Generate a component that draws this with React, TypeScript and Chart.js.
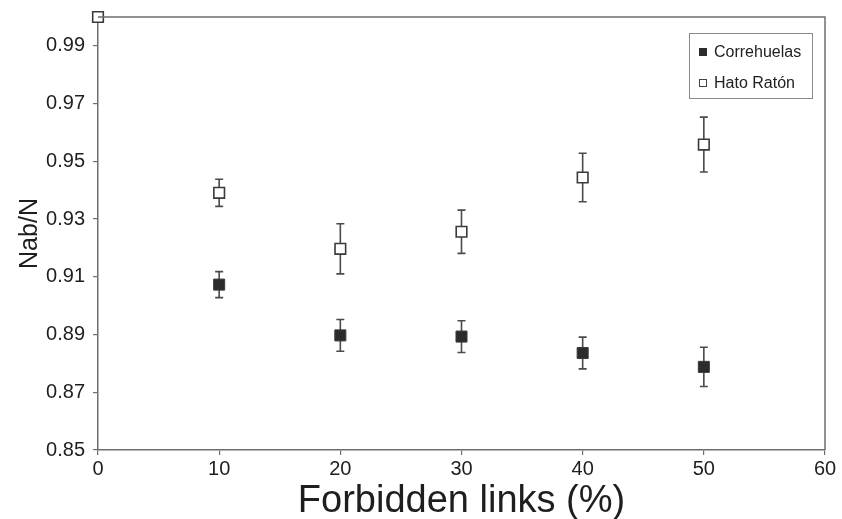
import React, { useEffect, useRef } from "react";
import { Chart, registerables } from "chart.js";

Chart.register(...registerables);

const correhuelasX = [10, 20, 30, 40, 50];
const correhuelasValues = [0.9073, 0.8897, 0.8893, 0.8836, 0.8788];
const correhuelasErrors = [0.0045, 0.0055, 0.0055, 0.0055, 0.0068];

const hatoX = [0, 10, 20, 30, 40, 50];
const hatoValues = [1.0, 0.9391, 0.9197, 0.9256, 0.9444, 0.9558];
const hatoErrors = [0, 0.0047, 0.0087, 0.0075, 0.0084, 0.0095];

const yTickValues = [0.85, 0.87, 0.89, 0.91, 0.93, 0.95, 0.97, 0.99];
const xTickValues = [0, 10, 20, 30, 40, 50, 60];

const seriesNames = ["Correhuelas", "Hato Ratón"];
const errorSets = [correhuelasErrors, hatoErrors];

const FONT = "'Liberation Sans', Arial, Helvetica, sans-serif";
const AXIS_COLOR = "#6e6e6e";

const errorBarPlugin = {
  id: "errorBars",
  beforeDatasetsDraw(chart: any) {
    const ctx = chart.ctx;
    const yScale = chart.scales.y;
    ctx.save();
    ctx.strokeStyle = "#4a4a4a";
    ctx.lineWidth = 1.6;
    chart.data.datasets.forEach((ds: any, di: number) => {
      const meta = chart.getDatasetMeta(di);
      const errs = errorSets[di];
      meta.data.forEach((pt: any, i: number) => {
        const e = errs[i];
        if (!e) return;
        const v = ds.data[i].y;
        const x = pt.x;
        const yTop = yScale.getPixelForValue(v + e);
        const yBot = yScale.getPixelForValue(v - e);
        ctx.beginPath();
        ctx.moveTo(x, yTop);
        ctx.lineTo(x, yBot);
        ctx.moveTo(x - 4, yTop);
        ctx.lineTo(x + 4, yTop);
        ctx.moveTo(x - 4, yBot);
        ctx.lineTo(x + 4, yBot);
        ctx.stroke();
      });
    });
    ctx.restore();
  },
};

const frameAndLegendPlugin = {
  id: "frameLegend",
  afterDraw(chart: any) {
    const ctx = chart.ctx;
    const a = chart.chartArea;
    ctx.save();
    ctx.strokeStyle = AXIS_COLOR;
    ctx.lineWidth = 1.5;
    ctx.beginPath();
    ctx.moveTo(a.left, a.top);
    ctx.lineTo(a.right, a.top);
    ctx.lineTo(a.right, a.bottom);
    ctx.stroke();

    // legend box
    const lx = 689, ly = 33, lw = 123, lh = 65;
    ctx.strokeStyle = "#8a8a8a";
    ctx.lineWidth = 1;
    ctx.fillStyle = "#ffffff";
    ctx.fillRect(lx, ly, lw, lh);
    ctx.strokeRect(lx + 0.5, ly + 0.5, lw, lh);

    const rows = [52, 83];
    ctx.font = `16px ${FONT}`;
    ctx.textBaseline = "middle";
    ctx.textAlign = "left";
    rows.forEach((ry, i) => {
      if (i === 0) {
        ctx.fillStyle = "#2b2b2b";
        ctx.fillRect(699, ry - 4, 8, 8);
      } else {
        ctx.fillStyle = "#ffffff";
        ctx.fillRect(699, ry - 4, 8, 8);
        ctx.strokeStyle = "#444";
        ctx.lineWidth = 1;
        ctx.strokeRect(699.5, ry - 3.5, 7, 7);
      }
      ctx.fillStyle = "#222";
      ctx.fillText(seriesNames[i], 714, ry + 1);
    });
    ctx.restore();
  },
};

export default function App() {
  const canvasRef = useRef<HTMLCanvasElement | null>(null);

  useEffect(() => {
    document.body.style.margin = "0";
    const canvas = canvasRef.current;
    if (!canvas) return;
    const chart = new Chart(canvas, {
      type: "scatter",
      data: {
        datasets: [
          {
            label: seriesNames[0],
            data: correhuelasX.map((x, i) => ({ x, y: correhuelasValues[i] })),
            pointStyle: "rect",
            pointRadius: 7.8,
            pointHoverRadius: 7.8,
            backgroundColor: "#2b2b2b",
            borderColor: "#3a3a3a",
            borderWidth: 1,
            clip: false,
          },
          {
            label: seriesNames[1],
            data: hatoX.map((x, i) => ({ x, y: hatoValues[i] })),
            pointStyle: "rect",
            pointRadius: 7.5,
            pointHoverRadius: 7.5,
            backgroundColor: "#ffffff",
            borderColor: "#3a3a3a",
            borderWidth: 1.6,
            clip: false,
          },
        ],
      },
      options: {
        animation: false,
        responsive: false,
        maintainAspectRatio: false,
        layout: { padding: { top: 17, right: 17, left: 0, bottom: 0 } },
        plugins: {
          legend: { display: false },
          tooltip: { enabled: false },
        },
        scales: {
          x: {
            type: "linear",
            min: 0,
            max: 60,
            afterBuildTicks(scale: any) {
              scale.ticks = xTickValues.map((v) => ({ value: v }));
            },
            afterFit(scale: any) {
              scale.height = 69;
            },
            grid: {
              drawOnChartArea: false,
              drawTicks: true,
              tickLength: 5,
              color: AXIS_COLOR,
              lineWidth: 1.2,
            },
            border: { display: true, color: AXIS_COLOR, width: 1.5 },
            ticks: {
              color: "#1e1e1e",
              font: { family: FONT, size: 20 },
              padding: 2,
              maxRotation: 0,
              callback: (v: any) => String(v),
            },
            title: {
              display: true,
              text: "Forbidden links (%)",
              color: "#1e1e1e",
              font: { family: FONT, size: 38 },
              padding: { top: 0, bottom: -5 },
            },
          },
          y: {
            type: "linear",
            min: 0.85,
            max: 1.0,
            afterBuildTicks(scale: any) {
              scale.ticks = yTickValues.map((v) => ({ value: v }));
            },
            afterFit(scale: any) {
              scale.width = 98;
              scale.paddingTop = 0;
              scale.paddingBottom = 0;
            },
            grid: {
              drawOnChartArea: false,
              drawTicks: true,
              tickLength: 5,
              color: AXIS_COLOR,
              lineWidth: 1.2,
            },
            border: { display: true, color: AXIS_COLOR, width: 1.5 },
            ticks: {
              color: "#1e1e1e",
              font: { family: FONT, size: 20 },
              padding: 8,
              callback: (v: any) => Number(v).toFixed(2),
            },
            title: {
              display: true,
              text: "Nab/N",
              color: "#1e1e1e",
              font: { family: FONT, size: 25 },
              padding: { top: 15, bottom: 0 },
            },
          },
        },
      },
      plugins: [errorBarPlugin, frameAndLegendPlugin],
    } as any);
    return () => chart.destroy();
  }, []);

  return (
    <div style={{ width: 842, height: 519, position: "relative", background: "#fff" }}>
      <canvas ref={canvasRef} width={842} height={519} style={{ display: "block" }} />
    </div>
  );
}
